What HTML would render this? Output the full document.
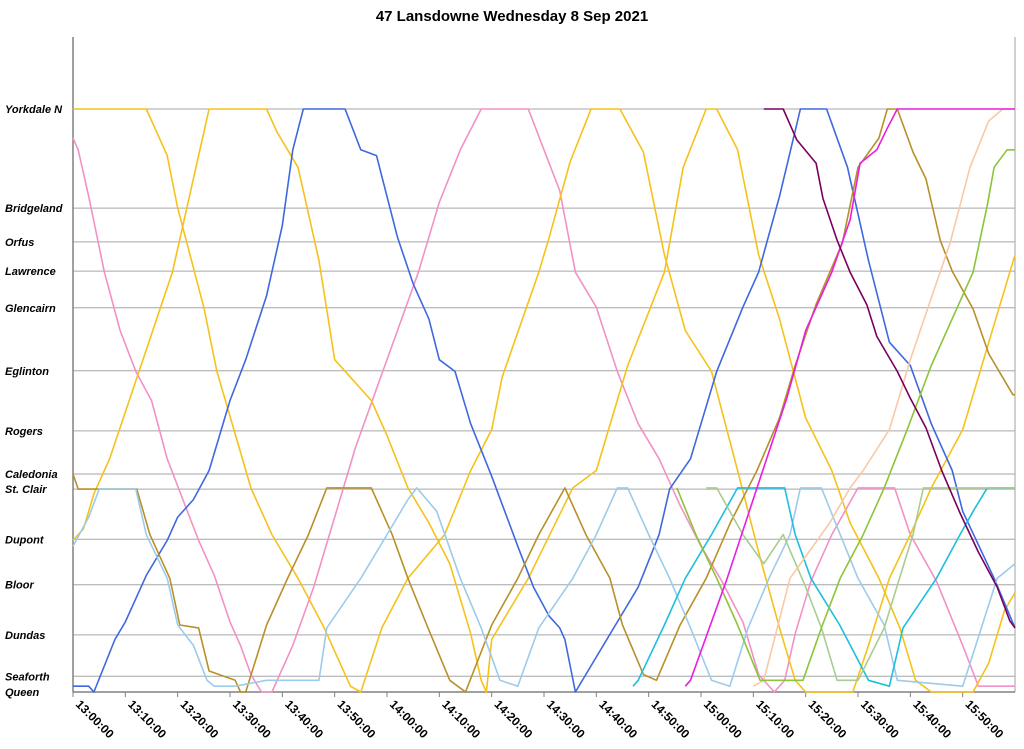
<!DOCTYPE html>
<html><head><meta charset="utf-8"><style>
body{margin:0;background:#fff;}
svg{display:block;font-family:"Liberation Sans",sans-serif;}
</style></head><body>
<svg id="chart" width="1024" height="749">
<text x="512" y="21" text-anchor="middle" font-size="15" font-weight="bold">47 Lansdowne Wednesday 8 Sep 2021</text>
</svg>
<script>
const stationNames=["Yorkdale N","Bridgeland","Orfus","Lawrence","Glencairn","Eglinton","Rogers","Caledonia","St. Clair","Dupont","Bloor","Dundas","Seaforth","Queen"];
const stationValues=[100,83,77.2,72.2,65.9,55.1,44.8,37.4,34.8,26.2,18.4,9.8,2.7,0];
const tickLabels=["13:00:00","13:10:00","13:20:00","13:30:00","13:40:00","13:50:00","14:00:00","14:10:00","14:20:00","14:30:00","14:40:00","14:50:00","15:00:00","15:10:00","15:20:00","15:30:00","15:40:00","15:50:00"];
const pinkTrip=[[0,95],[1,93],[3,85],[6,72],[9,62],[12,55],[15,50],[18,40],[21,33],[24,26],[27,20],[30,12],[32,8],[34,3],[36,0],[38,0],[42,8],[46,18],[50,30],[54,42],[58,52],[62,62],[66,72],[70,84],[74,93],[78,100],[87,100],[90,93],[93,86],[96,72],[100,66],[104,55],[108,46],[112,40],[116,32],[120,25],[124,19],[128,12],[131,3],[134,0],[136,2],[138,10],[141,19],[145,27],[150,35],[157,35],[160,27],[165,19],[170,8],[173,1],[180,1]];
const goldTripA=[[0,100],[14,100],[18,92],[20,83],[25,66],[27.5,55],[34,35],[38,27],[43,19.5],[48,11],[53,1],[55,0],[59,11],[64,19.5],[71,27],[76,38],[80,45],[82,54],[89,72],[91,78],[95,91],[99,100],[104.5,100],[109,92.6],[113,75],[117,62],[122,55],[127,38],[131,24],[135,11],[138,2],[140,0],[149,0],[152,8],[156,19.5],[160,27],[164,35],[170,45],[175,60],[180,75]];
const goldTripB=[[0,26],[2,28],[4,34],[7,40],[10,48],[13,56],[16,64],[19,72],[22,84],[24,92],[26,100],[37,100],[39,96],[41,93],[43,90],[45,82],[47,74],[50,57],[53,54],[57,50],[60,44],[64,35],[68,29],[72,22],[76,10],[78,2],[79,0],[80,9],[87,19.5],[95.5,35],[100,38],[106,56],[113,72],[116.6,90],[121,100],[123,100],[127,93],[131,75],[135,64],[140,47],[145,38],[148.5,29],[154,19.5],[158,11],[161,2],[164,0],[172,0],[175,5],[178,14],[180,17]];
const blueTrip=[[0,1],[3,1],[4,0],[8,9],[10,12],[14,20],[18,26],[20,30],[23,33],[26,38],[30,50],[33,57],[37,68],[40,80],[42,93],[44,100],[52,100],[55,93],[58,92],[62,78],[65,70],[68,64],[70,57],[73,55],[76,46],[80,37],[85,25],[88,18],[91,13],[93,11],[94,9],[96,0],[100,6],[104,12],[108,18],[112,27],[114,34.8],[118,40],[123,55],[128,66],[131,72],[135,85],[139,100],[144,100],[148,90],[152,74],[156,60],[160,56],[164,46],[168,38],[170,31],[176,19.5],[180,11]];
const brownTrip=[[0,37.4],[1,34.8],[12.2,34.8],[14.7,27],[18.5,19.5],[20.4,11.5],[24,11],[26,3.6],[31,2],[32,0],[33,0],[37,11.5],[41,19.5],[45,27],[48.5,35],[57,35],[61,27],[64,19.5],[67.6,11.5],[72,2],[75,0],[80,11.5],[85,19.5],[89,27],[94,35],[98,27],[102.6,19.5],[105,11.5],[109,3],[111.5,2],[116,11.5],[121,19.5],[125.6,29],[130.7,38],[135,47],[138,56],[142,66.5],[147,77],[150,90],[154,95],[155.6,100],[157.5,100],[160.5,92.6],[163,88],[165.7,77.5],[168,72.2],[172,65.7],[175,58],[179.6,51],[180,51]];
const lightBlueTrip=[[0,25],[3,30],[5,34.8],[12,34.8],[14,27],[18,19.5],[20,11.5],[23,8],[25.6,2],[27,1],[31,1],[37,2],[47,2],[48.5,11],[55,19.5],[60,27],[64,33],[65.7,35],[69.5,31],[74,19.5],[78,11],[81.6,2],[85,1],[89,11],[95.5,19.5],[100,27],[104,35],[106,35],[110,27],[114,19.5],[118,11],[122,2],[125.5,1],[129,11],[133,19.5],[137,27],[139,35],[143,35],[146.6,27],[150,19.5],[155,11.5],[157.5,2],[170,1],[176.6,19.5],[180,22]];
const cyanTrip=[[107,1],[108,2],[113,11.5],[117,19.5],[122,27],[127,35],[136,35],[138,27],[141,19.5],[146.5,11.5],[152,2],[156,1],[158.6,11],[165,19.5],[169.5,27],[172,31],[174.7,35],[180,35]];
const magentaTrip=[[117,1],[118,2],[125,19.5],[130.7,35],[136.4,50.4],[140,62],[145,72],[148.5,81],[150.4,90.7],[153.6,93],[155.6,96.7],[157.5,100],[180,100]];
const purpleTrip=[[132,100],[135.7,100],[138.3,94.7],[142,90.7],[143.3,84.7],[146,77.5],[148.5,72],[151.7,66.4],[153.6,61],[157.5,55],[160,50.4],[163,45.3],[166,38],[169.5,30.7],[173,24],[176.6,18],[179,12.2],[180,11]];
const greenTrip=[[115.4,35],[119,27],[123,19.5],[127,11.5],[131.3,2],[139.5,2],[143,11],[146.6,19.5],[151,27],[155,35],[159.4,45],[164,56],[169,66],[172,72],[174.7,83.5],[176,90],[178.5,93],[180,93]];
const sageTrip=[[121,35],[123,35],[128,27],[132,22],[135.7,27],[140,18],[143,11],[146,2],[150,2],[155,11],[160.5,27],[162.5,35],[180,35]];
const peachTrip=[[130,1],[132,2],[137,19.5],[144.6,29],[148.5,35],[151,38],[156,45],[160,57],[164,67.6],[167.6,77],[171.4,90],[175,98],[177.7,100],[180,100]];
const trips=[
 ["pink-trip",pinkTrip,"#f291c7"],["gold-trip-a",goldTripA,"#f5c21b"],["gold-trip-b",goldTripB,"#f5c21b"],
 ["blue-trip",blueTrip,"#3f68e0"],["brown-trip",brownTrip,"#b8902a"],["light-blue-trip",lightBlueTrip,"#9ccbec"],
 ["cyan-trip",cyanTrip,"#1cbfe0"],["sage-trip",sageTrip,"#a9cc8f"],["peach-trip",peachTrip,"#f9c8a4"],["green-trip",greenTrip,"#8cc43a"],
 ["magenta-trip",magentaTrip,"#e81ee0"],["purple-trip",purpleTrip,"#7a0060"]];
const NS="http://www.w3.org/2000/svg";
const svg=document.getElementById('chart');
const X0=73,X1=1015,Y0=692,Y1=109;
function xs(m){return X0+(X1-X0)*m/180;}
function ys(v){return Y0-(Y0-Y1)*v/100;}
function mk(t,a){const e=document.createElementNS(NS,t);for(const k in a)e.setAttribute(k,a[k]);svg.appendChild(e);return e;}
// grid + station labels
stationValues.forEach((v,i)=>{
 const g=mk('line',{x1:X0,x2:X1,y1:ys(v),y2:ys(v),stroke:'#a6a6a6','stroke-width':1});
 
 
 const t=mk('text',{x:5,y:ys(v)+4,'font-size':11,'font-weight':'bold','font-style':'italic'});
 t.textContent=stationNames[i];
 
 
});
// axes
const la=mk('line',{x1:X0,x2:X0,y1:37,y2:Y0,stroke:'#808080','stroke-width':1.5});


const ra=mk('line',{x1:X1,x2:X1,y1:37,y2:Y0,stroke:'#a0a0a0','stroke-width':1});


const ba=mk('line',{x1:X0,x2:X1,y1:Y0,y2:Y0,stroke:'#808080','stroke-width':1.5});


tickLabels.forEach((s,i)=>{
 const x=xs(i*10);
 const tk=mk('line',{x1:x,x2:x,y1:Y0,y2:Y0+5,stroke:'#808080'});
 
 
 const t=mk('text',{x:x+2,y:Y0+13,'font-size':12,'font-weight':'bold',transform:`rotate(45 ${x+2} ${Y0+13})`});
 t.textContent=s;
 
 
});
trips.forEach(([name,pts,col])=>{
 const p=mk('polyline',{points:pts.map(q=>xs(q[0]).toFixed(1)+','+ys(q[1]).toFixed(1)).join(' '),fill:'none',stroke:col,'stroke-width':1.6,'stroke-linejoin':'round'});
 
 
});
</script>
</body></html>
